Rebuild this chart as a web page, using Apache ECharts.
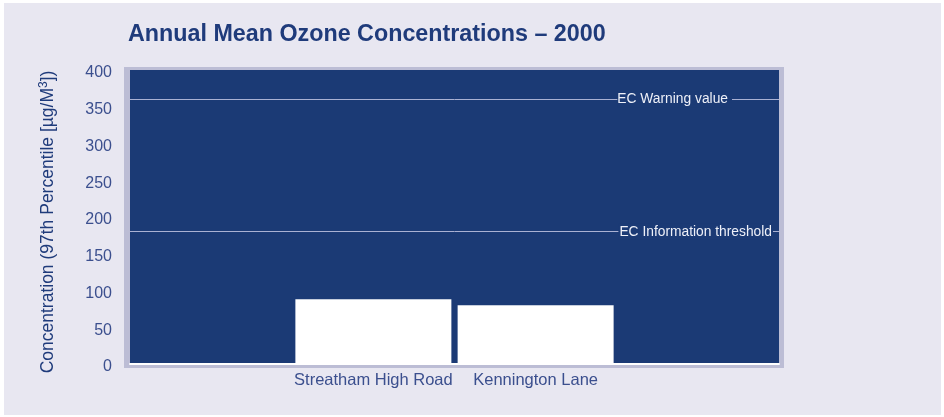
<!DOCTYPE html>
<html>
<head>
    <meta charset="UTF-8">
    <title>Annual Mean Ozone Concentrations - 2000</title>
    <script src="https://cdn.jsdelivr.net/npm/echarts@6/dist/echarts.min.js"></script>
    <style>
        html, body { margin: 0; padding: 0; background: #ffffff; }
        #panel { position: absolute; left: 4px; top: 3px; width: 937px; height: 412px; }
    </style>
</head>
<body>
<div id="panel"></div>
<script>
    // data
    var categories = ['', 'Streatham High Road', 'Kennington Lane', ''];
    var concentration = [null, 88, 80, null];
    var thresholdNames = ['EC Warning value', 'EC Information threshold'];
    var thresholdValues = [360, 180];
    var yMin = 0, yMax = 400, yStep = 50;

    var navy = '#1b3a75';
    var textBlue = '#3b4f8e';
    var lineCol = '#aab1d3';

    // per-label placement of the threshold text along the line
    var labelDist = [[47, 0], [6, 0]];
    var labelPad = [[1, 4, 1, 0], [1, 1, 1, 1]];

    var chart = echarts.init(document.getElementById('panel'), null, {renderer: 'canvas'});

    var option = {
        backgroundColor: '#e8e7f1',
        animation: false,
        title: {
            text: 'Annual Mean Ozone Concentrations \u2013 2000',
            left: 119,
            top: 15,
            textStyle: {
                fontFamily: 'Liberation Sans',
                fontSize: 23.3,
                fontWeight: 'bold',
                color: '#1f3b7b'
            }
        },
        grid: [
            // side wall / floor strip
            {left: 120, top: 64, width: 660, height: 301, show: true,
                backgroundColor: '#bcbdd5', borderWidth: 0},
            // back wall
            {left: 126, top: 67, width: 649, height: 294, show: true,
                backgroundColor: navy, borderWidth: 0}
        ],
        xAxis: [
            {gridIndex: 0, type: 'value', show: false},
            {
                gridIndex: 1,
                type: 'category',
                data: categories,
                axisLine: {show: true, lineStyle: {color: '#ffffff', width: 2}},
                axisTick: {show: false},
                axisLabel: {
                    interval: 0,
                    margin: 8,
                    fontFamily: 'Liberation Sans',
                    fontSize: 16.5,
                    color: textBlue
                }
            }
        ],
        yAxis: [
            {gridIndex: 0, type: 'value', show: false},
            {
                gridIndex: 1,
                type: 'value',
                min: yMin,
                max: yMax,
                interval: yStep,
                name: '{a|Concentration (97th Percentile [\u00b5g/M}{s|3}{a|])}',
                nameLocation: 'middle',
                nameGap: 72,
                nameTextStyle: {
                    padding: [0, 10, 0, 0],
                    rich: {
                        a: {fontFamily: 'Liberation Sans', fontSize: 17.5, color: '#1f3b7b'},
                        s: {fontFamily: 'Liberation Sans', fontSize: 12, color: '#1f3b7b',
                            padding: [0, 0, 8, 0]}
                    }
                },
                axisLine: {show: false},
                axisTick: {show: false},
                splitLine: {show: false},
                axisLabel: {
                    margin: 18,
                    verticalAlign: 'top',
                    lineHeight: 6,
                    fontFamily: 'Liberation Sans',
                    fontSize: 16,
                    color: textBlue
                }
            }
        ],
        series: [{
            type: 'bar',
            xAxisIndex: 1,
            yAxisIndex: 1,
            data: concentration,
            barWidth: 156,
            itemStyle: {color: '#ffffff'},
            markLine: {
                silent: true,
                symbol: 'none',
                lineStyle: {color: lineCol, width: 1, type: 'solid'},
                data: thresholdValues.map(function (v, i) {
                    return {
                        yAxis: v,
                        label: {
                            show: true,
                            formatter: thresholdNames[i],
                            position: 'insideEnd',
                            distance: labelDist[i],
                            backgroundColor: navy,
                            padding: labelPad[i],
                            fontFamily: 'Liberation Sans',
                            fontSize: 13.8,
                            color: '#eef0f8'
                        }
                    };
                })
            }
        }]
    };

    chart.setOption(option);
</script>
</body>
</html>
